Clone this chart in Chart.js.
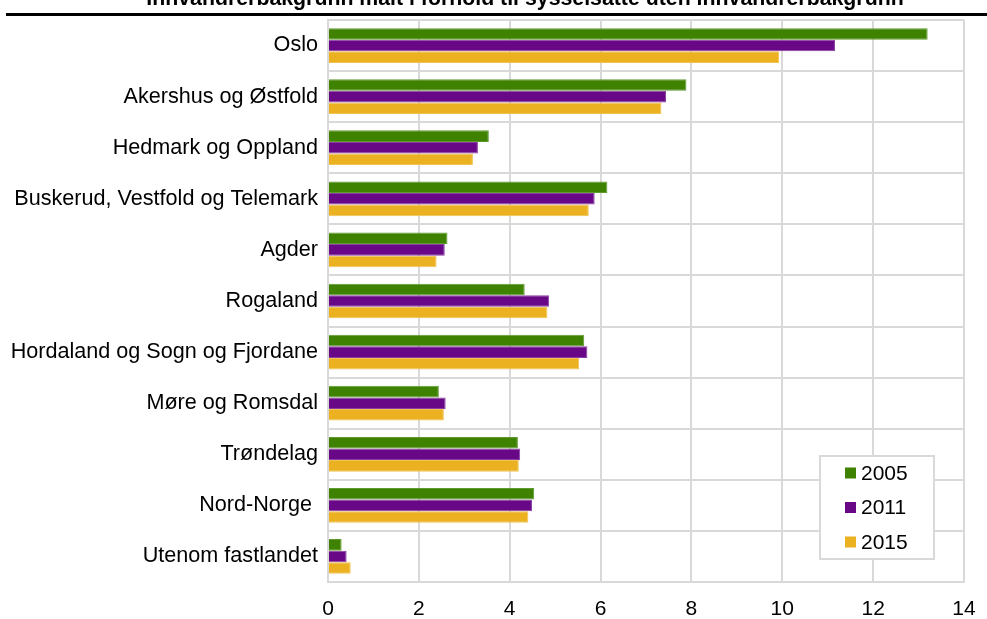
<!DOCTYPE html>
<html lang="no">
<head>
<meta charset="utf-8">
<title>Sysselsatte med innvandrerbakgrunn</title>
<script src="https://cdn.jsdelivr.net/npm/chart.js@4/dist/chart.umd.min.js"></script>
<style>
    html, body { margin: 0; padding: 0; background: #fff; }
    #wrap { width: 987px; height: 619px; position: relative; }
</style>
</head>
<body>
<div id="wrap"><canvas id="regionChart"></canvas></div>
<script>
const categories = [
    "Oslo",
    "Akershus og Østfold",
    "Hedmark og Oppland",
    "Buskerud, Vestfold og Telemark",
    "Agder",
    "Rogaland",
    "Hordaland og Sogn og Fjordane",
    "Møre og Romsdal",
    "Trøndelag",
    "Nord-Norge ",
    "Utenom fastlandet"
];
const values2005 = [13.2, 7.89, 3.54, 6.15, 2.63, 4.33, 5.64, 2.44, 4.18, 4.54, 0.30];
const values2011 = [11.16, 7.44, 3.30, 5.87, 2.57, 4.87, 5.71, 2.59, 4.23, 4.49, 0.41];
const values2015 = [9.93, 7.34, 3.19, 5.74, 2.39, 4.83, 5.53, 2.55, 4.20, 4.41, 0.50];
const xTicks = [0, 2, 4, 6, 8, 10, 12, 14];

const titleText = "Innvandrerbakgrunn målt i forhold til sysselsatte uten innvandrerbakgrunn";
const fontFamily = "Arial, 'Liberation Sans', Helvetica, sans-serif";
const gridColor = "#d9d9d9";

// title sits mostly above the canvas edge, with a heavy rule under it
const headerPlugin = {
    id: "header",
    afterDraw(chart) {
        const ctx = chart.ctx;
        ctx.save();
        ctx.fillStyle = "#000";
        ctx.font = "bold 21.3px " + fontFamily;
        ctx.textAlign = "center";
        ctx.textBaseline = "alphabetic";
        ctx.fillText(titleText, 525, 5);
        ctx.fillRect(6, 13, 981, 3);
        ctx.restore();
    }
};

// boxed legend inside the lower right of the plot
const boxLegendPlugin = {
    id: "boxLegend",
    afterDraw(chart) {
        const ctx = chart.ctx;
        const left = 820, top = 456, width = 114, height = 103;
        ctx.save();
        ctx.fillStyle = "#fff";
        ctx.fillRect(left, top, width, height);
        ctx.strokeStyle = gridColor;
        ctx.lineWidth = 2;
        ctx.strokeRect(left, top, width, height);
        ctx.font = "21px " + fontFamily;
        ctx.textAlign = "left";
        ctx.textBaseline = "middle";
        chart.data.datasets.forEach((ds, i) => {
            const y = 473 + i * 34.5;
            ctx.fillStyle = ds.backgroundColor;
            ctx.fillRect(845, y - 5.5, 11, 11);
            ctx.fillStyle = "#000";
            ctx.fillText(ds.label, 861, y + 1);
        });
        ctx.restore();
    }
};

new Chart(document.getElementById("regionChart"), {
    type: "bar",
    data: {
        labels: categories,
        datasets: [
            {
                label: "2005",
                data: values2005,
                backgroundColor: "#3f8200",
                borderColor: "#5f9a30",
                borderWidth: 1
            },
            {
                label: "2011",
                data: values2011,
                backgroundColor: "#690886",
                borderColor: "#8a3ea3",
                borderWidth: 1
            },
            {
                label: "2015",
                data: values2015,
                backgroundColor: "#ebb120",
                borderColor: "#f0c350",
                borderWidth: 1
            }
        ]
    },
    options: {
        indexAxis: "y",
        responsive: true,
        maintainAspectRatio: false,
        animation: false,
        layout: {
            padding: { top: 20, right: 23, left: 0, bottom: 0 }
        },
        datasets: {
            bar: {
                categoryPercentage: 0.68,
                barPercentage: 1
            }
        },
        scales: {
            x: {
                min: 0,
                max: 14,
                afterBuildTicks(scale) {
                    scale.ticks = xTicks.map(v => ({ value: v }));
                },
                afterFit(scale) {
                    scale.height = 37;
                    scale.paddingLeft = 0;
                    scale.paddingRight = 0;
                },
                grid: {
                    color: gridColor,
                    lineWidth: 2,
                    drawTicks: false
                },
                border: {
                    display: true,
                    color: gridColor,
                    width: 2
                },
                ticks: {
                    color: "#000",
                    padding: 15,
                    font: { family: fontFamily, size: 21 }
                }
            },
            y: {
                afterFit(scale) {
                    scale.width = 328;
                    scale.paddingTop = 0;
                    scale.paddingBottom = 0;
                },
                grid: {
                    color: gridColor,
                    lineWidth: 2,
                    drawTicks: false
                },
                border: {
                    display: true,
                    color: gridColor,
                    width: 2
                },
                ticks: {
                    color: "#000",
                    padding: 10,
                    font: { family: fontFamily, size: 21.6 }
                }
            }
        },
        plugins: {
            legend: { display: false },
            tooltip: { enabled: false }
        }
    },
    plugins: [headerPlugin, boxLegendPlugin]
});
</script>
</body>
</html>
